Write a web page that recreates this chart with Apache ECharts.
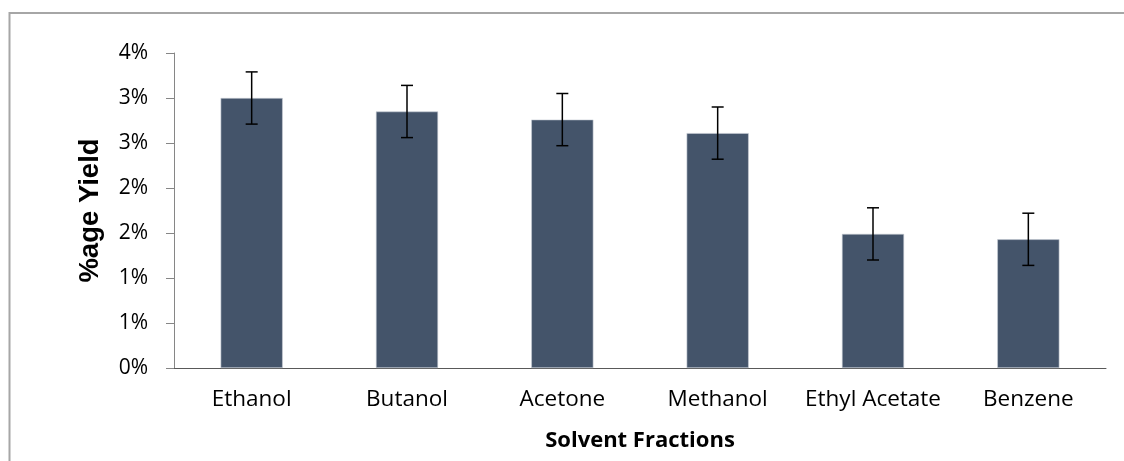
<!DOCTYPE html>
<html>
<head>
<meta charset="utf-8">
<script src="https://cdn.jsdelivr.net/npm/echarts@6/dist/echarts.min.js"></script>
<style>
  html, body { margin: 0; padding: 0; background: #fff; }
  #chart { width: 1124px; height: 461px; }
</style>
</head>
<body>
<div id="chart"></div>
<script>
// solvent fractions and their yields (in %)
const categories = ['Ethanol', 'Butanol', 'Acetone', 'Methanol', 'Ethyl Acetate', 'Benzene']
const yieldValues = [3.00, 2.85, 2.76, 2.61, 1.49, 1.43]
const yieldErrors = [0.29, 0.29, 0.29, 0.29, 0.29, 0.29]

const chart = echarts.init(document.getElementById('chart'))

// error bar data: [index, low, high]
const errorData = yieldValues.map((v, i) => [i, v - yieldErrors[i], v + yieldErrors[i]])

chart.setOption({
  animation: false,
  textStyle: { fontFamily: '"Open Sans", sans-serif' },
  // outer chart frame (right and bottom edges fall off the page)
  graphic: [{
    type: 'rect',
    shape: { x: 9.5, y: 13, width: 1130, height: 470 },
    style: { fill: 'none', stroke: '#a6a6a6', lineWidth: 2 },
    silent: true
  }],
  grid: {
    left: 174,
    right: 18,
    top: 53,
    bottom: 93
  },
  xAxis: {
    type: 'category',
    data: categories,
    name: 'Solvent Fractions',
    nameLocation: 'middle',
    nameGap: 62,
    nameTextStyle: { fontSize: 22, fontWeight: 'bold', color: '#000' },
    axisLine: { lineStyle: { color: '#595959', width: 1 } },
    axisTick: { show: false },
    axisLabel: { fontSize: 22.5, color: '#000', margin: 20, interval: 0 }
  },
  yAxis: {
    type: 'value',
    min: 0,
    max: 3.5,
    interval: 0.5,
    name: '%age Yield',
    nameLocation: 'middle',
    nameGap: 70,
    nameTextStyle: {
      fontSize: 27.5,
      fontWeight: 'bold',
      color: '#000',
      fontFamily: '"Liberation Sans", Arial, sans-serif'
    },
    axisLine: { show: true, lineStyle: { color: '#868686' } },
    axisTick: { show: true, length: 8, lineStyle: { color: '#868686' } },
    splitLine: { show: false },
    axisLabel: {
      fontSize: 21,
      color: '#000',
      margin: 26,
      formatter: v => Math.round(v) + '%'
    }
  },
  series: [
    {
      type: 'bar',
      data: yieldValues,
      barWidth: '40%',
      itemStyle: { color: '#44546a', borderColor: '#c8cdd5', borderWidth: 0.6 }
    },
    {
      type: 'custom',
      data: errorData,
      z: 10,
      renderItem: function (params, api) {
        const x = api.value(0)
        const lo = api.coord([x, api.value(1)])
        const hi = api.coord([x, api.value(2)])
        const cap = 6
        const style = { stroke: '#000', lineWidth: 1.5 }
        return {
          type: 'group',
          children: [
            { type: 'line', shape: { x1: hi[0], y1: hi[1], x2: lo[0], y2: lo[1] }, style: style },
            { type: 'line', shape: { x1: hi[0] - cap, y1: hi[1], x2: hi[0] + cap, y2: hi[1] }, style: style },
            { type: 'line', shape: { x1: lo[0] - cap, y1: lo[1], x2: lo[0] + cap, y2: lo[1] }, style: style }
          ]
        }
      }
    }
  ]
})
</script>
</body>
</html>
